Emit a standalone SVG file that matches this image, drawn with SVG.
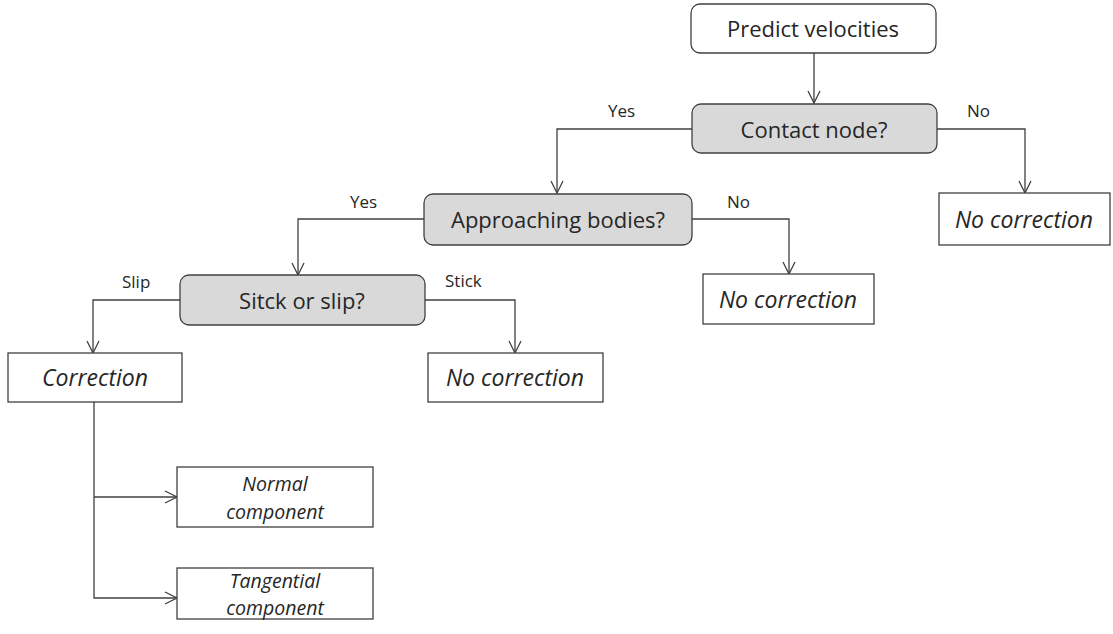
<svg xmlns="http://www.w3.org/2000/svg" width="1113" height="634" viewBox="0 0 1113 634">
<defs>
<style>
.box{fill:#ffffff;stroke:#404040;stroke-width:1.3}
.dec{fill:#d9d9d9;stroke:#404040;stroke-width:1.3}
.t{font-family:"Open Sans",Lato,sans-serif;font-size:22px;fill:#262626;text-anchor:middle;dominant-baseline:central;font-variant-ligatures:none}
.i{font-style:italic;font-size:23px}
.i2{font-style:italic;font-size:19.5px}
.lbl{font-family:"Open Sans",Lato,sans-serif;font-size:17px;fill:#262626}
.c{fill:none;stroke:#404040;stroke-width:1.3;marker-end:url(#arr)}
</style>
<marker id="arr" viewBox="0 0 14 14" refX="13" refY="7" markerWidth="14" markerHeight="14" markerUnits="userSpaceOnUse" orient="auto">
<path d="M1,1 L13,7 L1,13" fill="none" stroke="#404040" stroke-width="1.3"/>
</marker>
</defs>
<rect width="1113" height="634" fill="#ffffff"/>
<g id="connectors">
<path class="c" d="M814,53 V103"/>
<path class="c" d="M937,129 H1025 V193"/>
<path class="c" d="M692,129 H557 V193"/>
<path class="c" d="M692,219 H789 V274"/>
<path class="c" d="M424,219 H298 V275"/>
<path class="c" d="M180,300 H93 V353"/>
<path class="c" d="M425,300 H515 V353"/>
<path class="c" d="M94,402 V598 H177"/>
<path class="c" d="M94,497 H177"/>
</g>
<g id="labels">
<text class="lbl" x="608" y="117">Yes</text>
<text class="lbl" x="967" y="117">No</text>
<text class="lbl" x="350" y="208">Yes</text>
<text class="lbl" x="727" y="208">No</text>
<text class="lbl" x="122" y="288">Slip</text>
<text class="lbl" x="445" y="287">Stick</text>
</g>
<g id="predict"><rect class="box" x="691" y="4" width="245" height="49" rx="9"/><text class="t" x="813" y="28">Predict velocities</text></g>
<g id="contact"><rect class="dec" x="692" y="104" width="245" height="49" rx="9"/><text class="t" x="814" y="129">Contact node?</text></g>
<g id="nocorr1"><rect class="box" x="939" y="193" width="171" height="52"/><text class="t i" x="1024" y="219">No correction</text></g>
<g id="approach"><rect class="dec" x="424" y="194" width="268" height="51" rx="9"/><text class="t" x="558" y="219">Approaching bodies?</text></g>
<g id="nocorr2"><rect class="box" x="703" y="274" width="171" height="50"/><text class="t i" x="788" y="299">No correction</text></g>
<g id="stickslip"><rect class="dec" x="180" y="275" width="245" height="50" rx="9"/><text class="t" x="302" y="300">Sitck or slip?</text></g>
<g id="correction"><rect class="box" x="8" y="353" width="174" height="49"/><text class="t i" x="95" y="377">Correction</text></g>
<g id="nocorr3"><rect class="box" x="428" y="353" width="175" height="49"/><text class="t i" x="515" y="377">No correction</text></g>
<g id="normal"><rect class="box" x="177" y="467" width="196" height="60"/><text class="t i2" x="275" y="483">Normal</text><text class="t i2" x="275" y="511">component</text></g>
<g id="tangential"><rect class="box" x="177" y="568" width="196" height="51"/><text class="t i2" x="275" y="580">Tangential</text><text class="t i2" x="275" y="607">component</text></g>
</svg>
